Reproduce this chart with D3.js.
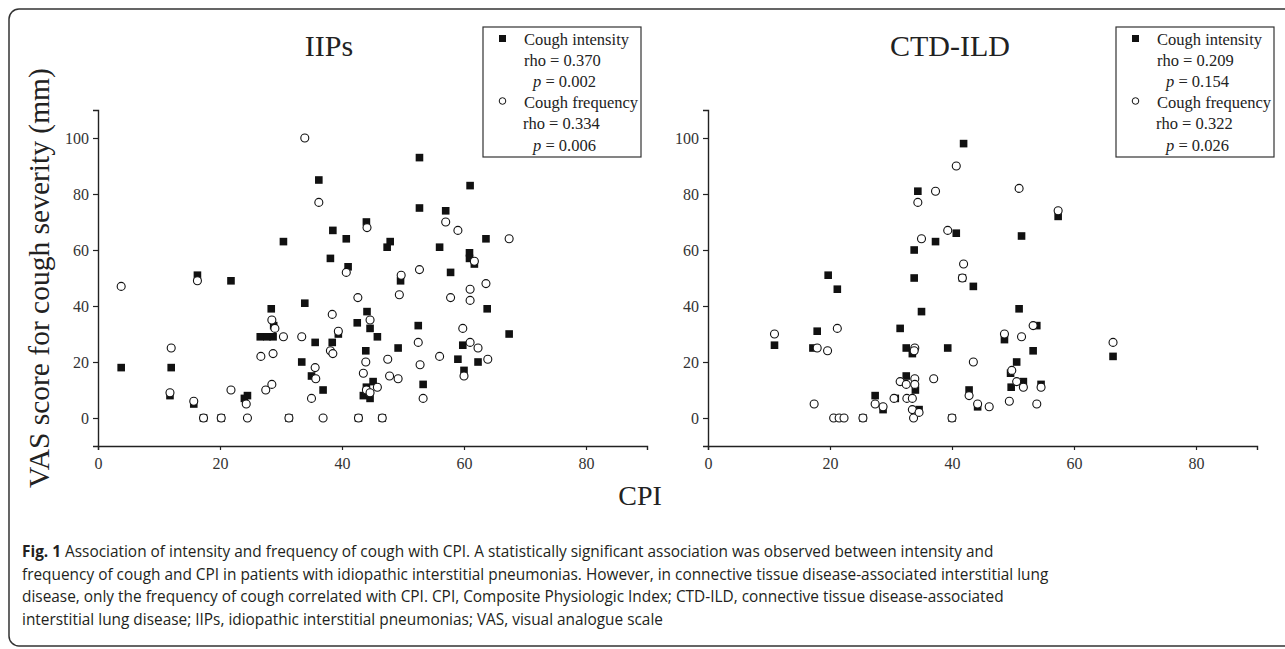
<!DOCTYPE html>
<html>
<head>
<meta charset="utf-8">
<script src="https://cdn.jsdelivr.net/npm/d3@7"></script>
<style>
  body { margin: 0; background: #fff; }
  svg text { font-family: "Liberation Serif", "Times New Roman", serif; fill: #222; }
  svg text.caption { font-family: "Open Sans", sans-serif; fill: #231f20; }
</style>
</head>
<body>
<svg id="mySvg"></svg>
<script>
const svgWidth = 1285;
const svgHeight = 649;

// IIPs panel: [CPI, VAS]
const iipIntensity = [
  [3.8, 18], [12.0, 18], [11.8, 8], [15.7, 5], [16.3, 51], [21.8, 49], [24.5, 8], [24.0, 7],
  [30.4, 63], [28.4, 39], [26.6, 29], [27.7, 29], [28.7, 29], [28.8, 33], [33.9, 41], [36.2, 85],
  [35.6, 27], [33.4, 20], [35.0, 15], [36.9, 10], [17.3, 0], [20.2, 0], [31.3, 0], [42.7, 0], [46.6, 0],
  [52.7, 93], [61.0, 83], [52.7, 75], [57.0, 74], [44.0, 70], [38.5, 67], [40.7, 64], [63.6, 64],
  [47.9, 63], [47.4, 61], [56.0, 61], [60.9, 59], [60.9, 57], [61.7, 55], [38.1, 57], [41.0, 54],
  [49.6, 49], [57.8, 52], [44.1, 38], [63.8, 39], [42.5, 34], [44.6, 32], [52.5, 33], [45.8, 29],
  [67.4, 30], [39.4, 30], [38.4, 27], [49.2, 25], [43.9, 24], [59.8, 26], [59.0, 21], [62.3, 20],
  [60.0, 17], [53.3, 12], [45.1, 13], [43.5, 8], [44.6, 7], [44.0, 11]
];
const iipFrequency = [
  [3.8, 47], [12.0, 25], [11.8, 9], [15.7, 6], [16.3, 49], [17.3, 0], [20.2, 0], [21.8, 10],
  [24.5, 0], [24.3, 5], [26.7, 22], [27.5, 10], [28.5, 12], [28.7, 23], [28.5, 35], [29.0, 32],
  [30.4, 29], [31.3, 0], [33.4, 29], [33.9, 100], [36.2, 77], [35.6, 18], [35.7, 14], [35.0, 7],
  [36.9, 0], [44.1, 68], [57.0, 70], [59.0, 67], [67.4, 64], [61.7, 56], [40.7, 52], [49.7, 51],
  [52.7, 53], [63.6, 48], [61.0, 46], [49.4, 44], [42.6, 43], [57.8, 43], [61.0, 42], [38.4, 37],
  [44.6, 35], [59.8, 32], [39.4, 31], [52.5, 27], [61.0, 27], [62.3, 25], [38.1, 24], [38.5, 23],
  [43.9, 20], [47.5, 21], [56.0, 22], [63.9, 21], [52.8, 19], [43.5, 16], [60.0, 15], [47.8, 15],
  [49.2, 14], [45.8, 11], [44.0, 10], [44.6, 9], [53.3, 7], [42.7, 0], [46.6, 0]
];

// CTD-ILD panel: [CPI, VAS]
const ctdIntensity = [
  [10.9, 26], [17.2, 25], [17.9, 31], [19.7, 51], [21.2, 46], [27.4, 8], [28.7, 3], [30.7, 7],
  [31.5, 32], [32.5, 25], [33.5, 23], [33.8, 60], [33.8, 50], [34.4, 81], [32.5, 15], [34.0, 10],
  [34.6, 3], [35.0, 38], [37.3, 63], [39.3, 25], [40.7, 66], [41.9, 98], [41.7, 50], [43.5, 47],
  [42.8, 10], [44.2, 4], [40.0, 0], [25.4, 0], [57.4, 72], [51.4, 65], [51.0, 39], [53.9, 33],
  [48.6, 28], [53.3, 24], [66.4, 22], [50.6, 20], [49.6, 16], [51.7, 13], [49.7, 11], [54.6, 12]
];
const ctdFrequency = [
  [10.9, 30], [17.9, 25], [17.4, 5], [19.6, 24], [21.2, 32], [20.6, 0], [21.5, 0], [22.3, 0],
  [25.4, 0], [27.4, 5], [28.7, 4], [30.5, 7], [31.5, 13], [32.5, 12], [32.6, 7], [33.5, 7],
  [33.5, 3], [33.7, 0], [34.6, 2], [33.9, 14], [33.9, 12], [33.9, 25], [33.8, 24], [34.4, 77],
  [35.0, 64], [37.0, 14], [37.3, 81], [39.3, 67], [40.0, 0], [40.7, 90], [41.9, 55], [41.7, 50],
  [43.5, 20], [42.8, 8], [44.2, 5], [46.1, 4], [51.0, 82], [57.4, 74], [53.3, 33], [48.6, 30],
  [51.4, 29], [66.4, 27], [49.8, 17], [50.6, 13], [51.7, 11], [54.6, 11], [49.4, 6], [53.9, 5]
];

const xTicks = [0, 20, 40, 60, 80];
const yTicks = [0, 20, 40, 60, 80, 100];

const panels = [
  { title: 'IIPs', intensity: iipIntensity, frequency: iipFrequency,
    rhoI: '0.370', pI: '0.002', rhoF: '0.334', pF: '0.006',
    x0: 98, x1: 647, titleX: 329, legendX: 483 },
  { title: 'CTD-ILD', intensity: ctdIntensity, frequency: ctdFrequency,
    rhoI: '0.209', pI: '0.154', rhoF: '0.322', pF: '0.026',
    x0: 708, x1: 1257, titleX: 950, legendX: 1116 }
];

const svg = d3.select("#mySvg")
    .attr("width", svgWidth)
    .attr("height", svgHeight);

svg.append('rect')
    .attr('x', 9).attr('y', 9)
    .attr('width', 1300).attr('height', 637)
    .attr('rx', 10)
    .attr('fill', 'white').attr('stroke', '#333').attr('stroke-width', 1.5);

const y = d3.scaleLinear().domain([-10, 110]).range([446, 110]);

panels.forEach(p => {
    const x = d3.scaleLinear().domain([0, 90]).range([p.x0, p.x1]);
    const g = svg.append('g');

    const yAxis = g.append('g')
        .attr('transform', `translate(${p.x0},0)`)
        .call(d3.axisLeft(y).tickValues(yTicks).tickSizeOuter(0).tickSize(5).tickPadding(4));
    const xAxis = g.append('g')
        .attr('transform', `translate(0,${y(-10)})`)
        .call(d3.axisBottom(x).tickValues(xTicks).tickSizeOuter(0).tickSize(4).tickPadding(8));

    [yAxis, xAxis].forEach(a => {
        a.select('.domain').attr('stroke', '#222').attr('stroke-width', 1.4);
        a.selectAll('.tick line').attr('stroke', '#222').attr('stroke-width', 1.2);
        a.selectAll('.tick text')
            .style('font-family', '"Liberation Serif", serif')
            .style('font-size', '16px').style('fill', '#333');
    });

    // cough intensity: filled squares
    g.selectAll('.sq')
        .data(p.intensity)
        .enter()
        .append('rect')
        .attr('class', 'sq')
        .attr('x', d => x(d[0]) - 3.8)
        .attr('y', d => y(d[1]) - 3.8)
        .attr('width', 7.6).attr('height', 7.6)
        .attr('fill', '#111');

    // cough frequency: open circles
    g.selectAll('.ci')
        .data(p.frequency)
        .enter()
        .append('circle')
        .attr('class', 'ci')
        .attr('cx', d => x(d[0]))
        .attr('cy', d => y(d[1]))
        .attr('r', 4)
        .attr('fill', 'white').attr('stroke', '#111').attr('stroke-width', 1.1);

    g.append('text')
        .text(p.title)
        .attr('x', p.titleX).attr('y', 56)
        .attr('text-anchor', 'middle')
        .attr('font-size', 30);

    // legend
    const lx = p.legendX;
    g.append('rect')
        .attr('x', lx).attr('y', 27).attr('width', 158).attr('height', 130)
        .attr('fill', 'white').attr('stroke', '#333').attr('stroke-width', 1.2);
    g.append('rect')
        .attr('x', lx + 16).attr('y', 35).attr('width', 7).attr('height', 7).attr('fill', '#111');
    g.append('circle')
        .attr('cx', lx + 19.5).attr('cy', 101).attr('r', 3.3)
        .attr('fill', 'white').attr('stroke', '#111').attr('stroke-width', 1);

    const rows = [
        { t: 'Cough intensity', dx: 41, y: 45 },
        { t: `rho = ${p.rhoI}`, dx: 41, y: 66 },
        { p: p.pI, dx: 50, y: 87 },
        { t: 'Cough frequency', dx: 41, y: 108 },
        { t: `rho = ${p.rhoF}`, dx: 40, y: 129 },
        { p: p.pF, dx: 50, y: 151 }
    ];
    rows.forEach(r => {
        const t = g.append('text')
            .attr('x', lx + r.dx).attr('y', r.y)
            .attr('font-size', 16.5);
        if (r.t) {
            t.text(r.t);
        } else {
            t.append('tspan').attr('font-style', 'italic').text('p');
            t.append('tspan').text(` = ${r.p}`);
        }
    });
});

svg.append('text')
    .text('VAS score for cough severity (mm)')
    .attr('transform', 'translate(49,278) rotate(-90)')
    .attr('text-anchor', 'middle')
    .attr('font-size', 29.5);

svg.append('text')
    .text('CPI')
    .attr('x', 640).attr('y', 505)
    .attr('text-anchor', 'middle')
    .attr('font-size', 28);

// caption
const captionLines = [
    'Association of intensity and frequency of cough with CPI. A statistically significant association was observed between intensity and',
    'frequency of cough and CPI in patients with idiopathic interstitial pneumonias. However, in connective tissue disease-associated interstitial lung',
    'disease, only the frequency of cough correlated with CPI. CPI, Composite Physiologic Index; CTD-ILD, connective tissue disease-associated',
    'interstitial lung disease; IIPs, idiopathic interstitial pneumonias; VAS, visual analogue scale'
];
captionLines.forEach((line, i) => {
    const t = svg.append('text')
        .attr('class', 'caption')
        .attr('x', 22).attr('y', 557 + i * 22.5)
        .attr('font-size', 15.4);
    if (i === 0) {
        t.append('tspan').attr('font-weight', 'bold').text('Fig. 1');
        t.append('tspan').text(' ' + line);
    } else {
        t.text(line);
    }
});
</script>
</body>
</html>
